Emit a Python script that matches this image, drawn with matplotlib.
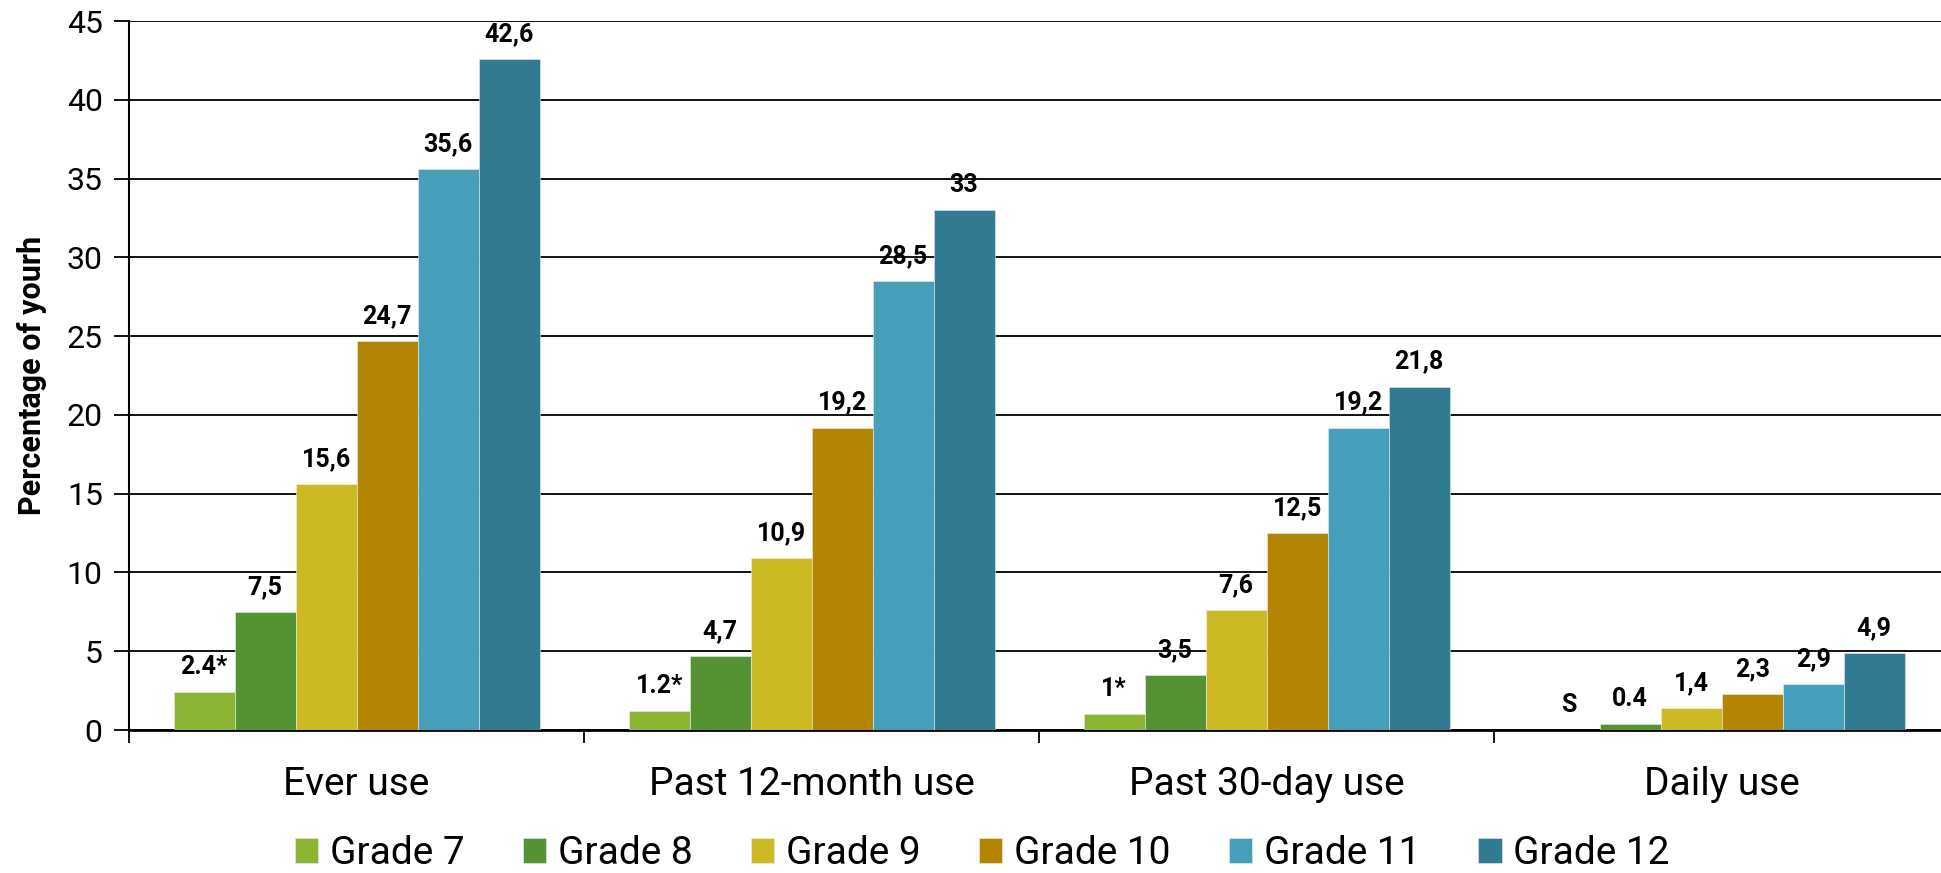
import numpy as np
import matplotlib
matplotlib.use("Agg")
import matplotlib.pyplot as plt
from matplotlib.ticker import FixedLocator, NullFormatter

plt.rcParams['font.family'] = ['Roboto', 'DejaVu Sans']

# Survey results: percentage of youth by grade
categories = ['Ever use', 'Past 12-month use', 'Past 30-day use', 'Daily use']
grades = ['Grade 7', 'Grade 8', 'Grade 9', 'Grade 10', 'Grade 11', 'Grade 12']

ever_use = [2.4, 7.5, 15.6, 24.7, 35.6, 42.6]
past_12_month = [1.2, 4.7, 10.9, 19.2, 28.5, 33.0]
past_30_day = [1.0, 3.5, 7.6, 12.5, 19.2, 21.8]
daily_use = [np.nan, 0.4, 1.4, 2.3, 2.9, 4.9]   # nan = suppressed ("S")

# '*' = interpret with caution, '.' = printed with a decimal point
ever_flags = ['*', '', '', '', '', '']
past_12_flags = ['*', '', '', '', '', '']
past_30_flags = ['*', '', '', '', '', '']
daily_flags = ['', '.', '', '', '', '']

colors = ['#8AB432', '#559232', '#CDB923', '#B48503', '#469FBA', '#307B92']

values = np.array([ever_use, past_12_month, past_30_day, daily_use])
flags = [ever_flags, past_12_flags, past_30_flags, daily_flags]


def fmt(v, flag):
    if np.isnan(v):
        return 'S'
    s = f'{v:g}'
    if flag == '':
        s = s.replace('.', ',')
    if flag == '*':
        s += '*'
    return s


fig = plt.figure(figsize=(19.41, 8.73), dpi=100)
ax = fig.add_axes([0.0665, 0.1638, 0.9377, 0.812])

x = np.arange(len(categories))
bar_w = 0.134
for i, grade in enumerate(grades):
    pos = x + (i - 2.5) * bar_w
    vals = values[:, i]
    ax.bar(pos, np.nan_to_num(vals), width=bar_w, color=colors[i],
           edgecolor='#e8eef0', linewidth=0.4, label=grade, zorder=3)
    for j, v in enumerate(vals):
        ax.annotate(fmt(v, flags[j][i]), (pos[j], 0 if np.isnan(v) else v),
                    xytext=(0, 18), textcoords='offset points',
                    ha='center', va='center', fontsize=18, fontweight='bold',
                    zorder=4)

ax.set_xlim(-0.5, len(categories) - 0.5)
ax.set_ylim(0, 45)
ax.set_yticks(np.arange(0, 46, 5))
ax.yaxis.grid(True, color='black', linewidth=1.3, zorder=0)
ax.set_axisbelow(True)

ax.set_xticks(x)
ax.set_xticklabels(categories, fontsize=28)
ax.xaxis.set_minor_locator(FixedLocator(np.arange(-0.5, len(categories), 1.0)))
ax.xaxis.set_minor_formatter(NullFormatter())
ax.tick_params(axis='x', which='major', length=0, pad=26)
ax.tick_params(axis='x', which='minor', length=9, width=1.3, direction='out')
ax.tick_params(axis='y', labelsize=23, length=11, width=1.3, pad=8)

for side in ['top', 'right']:
    ax.spines[side].set_visible(False)
ax.spines['left'].set_linewidth(1.5)
ax.spines['bottom'].set_linewidth(2)

ax.set_ylabel('Percentage of yourh', fontsize=22, fontweight='bold', labelpad=14)

fig.legend(loc='center', bbox_to_anchor=(0.506, 0.022), ncol=6, frameon=False,
           fontsize=28, handlelength=0.6, handleheight=0.6, handletextpad=0.3,
           columnspacing=1.5)

fig.savefig('out.png', dpi=100)
